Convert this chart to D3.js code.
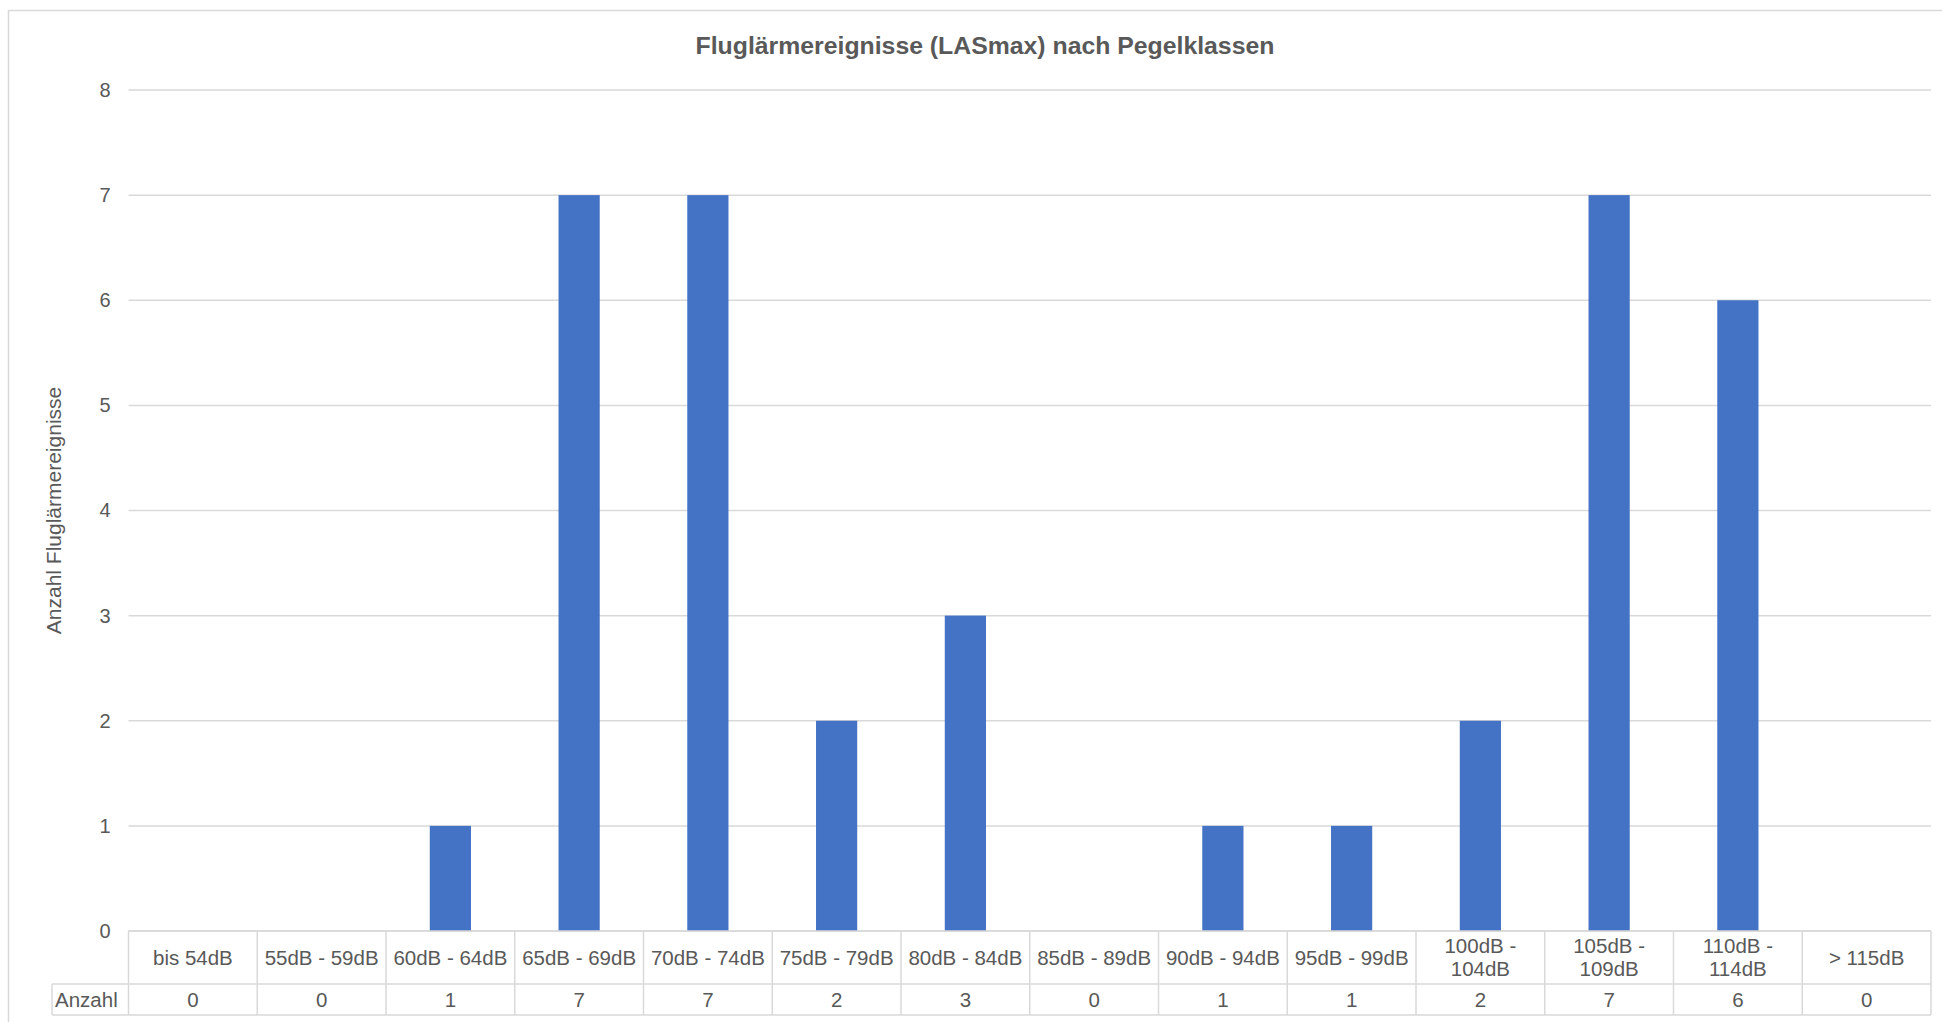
<!DOCTYPE html>
<html>
<head>
<meta charset="utf-8">
<script src="https://cdn.jsdelivr.net/npm/d3@7"></script>
<style>
  html, body { margin: 0; padding: 0; background: #fff; overflow: hidden; }
  svg { display: block; font-family: Arial, "Liberation Sans", sans-serif; }
</style>
</head>
<body>
<svg id="chart" width="1942" height="1022"></svg>
<script>
// Pegelklassen und Anzahl der Ereignisse
const categories = ['bis 54dB', '55dB - 59dB', '60dB - 64dB', '65dB - 69dB', '70dB - 74dB',
  '75dB - 79dB', '80dB - 84dB', '85dB - 89dB', '90dB - 94dB', '95dB - 99dB',
  '100dB - 104dB', '105dB - 109dB', '110dB - 114dB', '> 115dB']
const counts = [0, 0, 1, 7, 7, 2, 3, 0, 1, 1, 2, 7, 6, 0]
const yTicks = [0, 1, 2, 3, 4, 5, 6, 7, 8]
const seriesName = 'Anzahl'
const title = 'Fluglärmereignisse (LASmax) nach Pegelklassen'
const yTitle = 'Anzahl Fluglärmereignisse'

const textColor = '#595959'
const lineColor = '#d9d9d9'
const barColor = '#4472c4'

const svg = d3.select('#chart')
const plot = { left: 128.5, right: 1931, top: 90, bottom: 931 }
const table = { headerBottom: 984, bottom: 1015, labelLeft: 52 }

// Rahmen des Diagramms
svg.append('rect')
  .attr('x', 8.5).attr('y', 10.5)
  .attr('width', 2000).attr('height', 1100)
  .attr('fill', 'none')
  .attr('stroke', lineColor)
  .attr('stroke-width', 1.5)

svg.append('text')
  .attr('x', 985).attr('y', 54)
  .attr('text-anchor', 'middle')
  .attr('font-size', 24.8)
  .attr('font-weight', 'bold')
  .attr('fill', textColor)
  .text(title)

const x = d3.scaleBand()
  .domain(categories)
  .range([plot.left, plot.right])
  .paddingInner(0)
  .paddingOuter(0)

const y = d3.scaleLinear()
  .domain([0, 8])
  .range([plot.bottom, plot.top])

// Gitterlinien
svg.append('g')
  .selectAll('line')
  .data(yTicks)
  .join('line')
  .attr('x1', plot.left).attr('x2', plot.right)
  .attr('y1', d => y(d)).attr('y2', d => y(d))
  .attr('stroke', lineColor)
  .attr('stroke-width', 1.5)

// y-Achse, nur Beschriftung
const yAxis = svg.append('g')
  .attr('transform', `translate(${plot.left - 18},0)`)
  .call(d3.axisLeft(y).tickValues(yTicks).tickSize(0).tickPadding(0))
yAxis.select('.domain').remove()
yAxis.selectAll('text')
  .attr('font-size', 20)
  .attr('font-family', 'Arial, "Liberation Sans", sans-serif')
  .attr('fill', textColor)

svg.append('text')
  .attr('transform', `translate(61,${(plot.top + plot.bottom) / 2}) rotate(-90)`)
  .attr('text-anchor', 'middle')
  .attr('font-size', 21)
  .attr('fill', textColor)
  .text(yTitle)

// Balken
const barWidth = x.bandwidth() * 0.32
svg.append('g')
  .selectAll('rect')
  .data(counts)
  .join('rect')
  .attr('x', (d, i) => x(categories[i]) + (x.bandwidth() - barWidth) / 2)
  .attr('y', d => y(d))
  .attr('width', barWidth)
  .attr('height', d => y(0) - y(d))
  .attr('fill', barColor)

// Datentabelle
const grid = svg.append('g')
  .attr('stroke', lineColor)
  .attr('stroke-width', 1.5)
grid.append('line')
  .attr('x1', plot.left).attr('x2', plot.right)
  .attr('y1', plot.bottom).attr('y2', plot.bottom)
grid.append('line')
  .attr('x1', table.labelLeft).attr('x2', plot.right)
  .attr('y1', table.headerBottom).attr('y2', table.headerBottom)
grid.append('line')
  .attr('x1', table.labelLeft).attr('x2', plot.right)
  .attr('y1', table.bottom).attr('y2', table.bottom)
grid.append('line')
  .attr('x1', table.labelLeft).attr('x2', table.labelLeft)
  .attr('y1', table.headerBottom).attr('y2', table.bottom)
grid.selectAll('.vline')
  .data(categories.concat(['end']))
  .join('line')
  .attr('class', 'vline')
  .attr('x1', (d, i) => plot.left + i * x.bandwidth())
  .attr('x2', (d, i) => plot.left + i * x.bandwidth())
  .attr('y1', plot.bottom).attr('y2', table.bottom)

const headers = svg.append('g')
  .selectAll('text')
  .data(categories)
  .join('text')
  .attr('x', d => x(d) + x.bandwidth() / 2)
  .attr('y', (plot.bottom + table.headerBottom) / 2 + 7)
  .attr('text-anchor', 'middle')
  .attr('font-size', 20.5)
  .attr('fill', textColor)
  .text(d => d)

// zu breite Beschriftungen umbrechen
headers.each(function wrap(d) {
  const el = d3.select(this)
  if (this.getComputedTextLength() > x.bandwidth() - 6) {
    const parts = d.split(' - ')
    const cx = el.attr('x')
    el.text(null)
    el.attr('y', (plot.bottom + table.headerBottom) / 2 - 5)
    el.append('tspan').attr('x', cx).text(`${parts[0]} -`)
    el.append('tspan').attr('x', cx).attr('dy', 23.5).text(parts[1])
  }
})

svg.append('g')
  .selectAll('text')
  .data(counts)
  .join('text')
  .attr('x', (d, i) => x(categories[i]) + x.bandwidth() / 2)
  .attr('y', (table.headerBottom + table.bottom) / 2 + 7)
  .attr('text-anchor', 'middle')
  .attr('font-size', 20.5)
  .attr('fill', textColor)
  .text(d => d)

svg.append('text')
  .attr('x', table.labelLeft + 3)
  .attr('y', (table.headerBottom + table.bottom) / 2 + 7)
  .attr('font-size', 20.5)
  .attr('fill', textColor)
  .text(seriesName)
</script>
</body>
</html>
